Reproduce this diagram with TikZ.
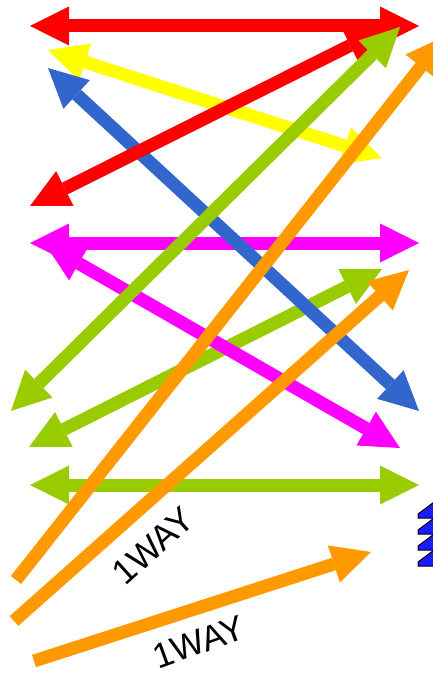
\documentclass[tikz,border=0pt]{standalone}
\usepackage{fontspec}
\setmainfont{Liberation Sans}
\usetikzlibrary{arrows.meta}
\definecolor{arRed}{HTML}{FF0000}
\definecolor{arYellow}{HTML}{FFFF00}
\definecolor{arBlue}{HTML}{3366CC}
\definecolor{arGreen}{HTML}{99CC00}
\definecolor{arMagenta}{HTML}{FF00FF}
\definecolor{arOrange}{HTML}{FF9900}
\definecolor{iconBlue}{HTML}{1A1AFF}
\tikzset{
  head/.tip={Triangle[length=39pt,width=39pt,line width=0pt]},
  shaft/.style={line width=13pt},
  both/.style={shaft,head-head},
  oneway/.style={shaft,-head},
  waylabel/.style={font=\fontsize{35}{38}\selectfont,inner sep=0pt}
}
\begin{document}
\begin{tikzpicture}[x=1pt,y=-1pt]
  \useasboundingbox (0,0) rectangle (433,674);
  \clip (0,0) rectangle (433,674);
  % arrow ends
  \coordinate (r1a) at (30,26);   \coordinate (r1b) at (419,26);
  \coordinate (r2a) at (30,206);  \coordinate (r2b) at (385,28);
  \coordinate (y1a) at (48,50);   \coordinate (y1b) at (382,158);
  \coordinate (b1a) at (48,68);   \coordinate (b1b) at (419,411);
  \coordinate (g1a) at (11,411);  \coordinate (g1b) at (400,27);
  \coordinate (g2a) at (29,447);  \coordinate (g2b) at (382,269);
  \coordinate (g3a) at (30,485);  \coordinate (g3b) at (419,485);
  \coordinate (m1a) at (30,243);  \coordinate (m1b) at (419,243);
  \coordinate (m2a) at (45,244);  \coordinate (m2b) at (400,448);
  \coordinate (o1a) at (16,580);  \coordinate (o1b) at (445,36);
  \coordinate (o2a) at (14,621);  \coordinate (o2b) at (409,270);
  \coordinate (o3a) at (34,661);  \coordinate (o3b) at (371,552);
  \draw[both,arGreen] (g2a) -- (g2b);
  \draw[both,arMagenta] (m1a) -- (m1b);
  \draw[both,arMagenta] (m2a) -- (m2b);
  \draw[both,arYellow] (y1a) -- (y1b);
  \draw[both,arBlue] (b1a) -- (b1b);
  \draw[both,arRed] (r1a) -- (r1b);
  \draw[both,arRed] (r2a) -- (r2b);
  \draw[both,arGreen] (g1a) -- (g1b);
  \draw[both,arGreen] (g3a) -- (g3b);
  \draw[oneway,arOrange] (o1a) -- (o1b);
  \draw[oneway,arOrange] (o2a) -- (o2b);
  \draw[oneway,arOrange] (o3a) -- (o3b);
  \node[waylabel,rotate=42] (way1) at (153,546) {1WAY};
  \node[waylabel,rotate=20] (way2) at (199,642) {1WAY};
  % stacked icon at the right edge
  \foreach \i in {0,...,3}
    \filldraw[fill=iconBlue,draw=black,line width=1pt]
      (418,502+16*\i+12) -- (434,502+16*\i) -- (434,502+16*\i+16) -- (418,502+16*\i+16) -- cycle;
\end{tikzpicture}
\end{document}
